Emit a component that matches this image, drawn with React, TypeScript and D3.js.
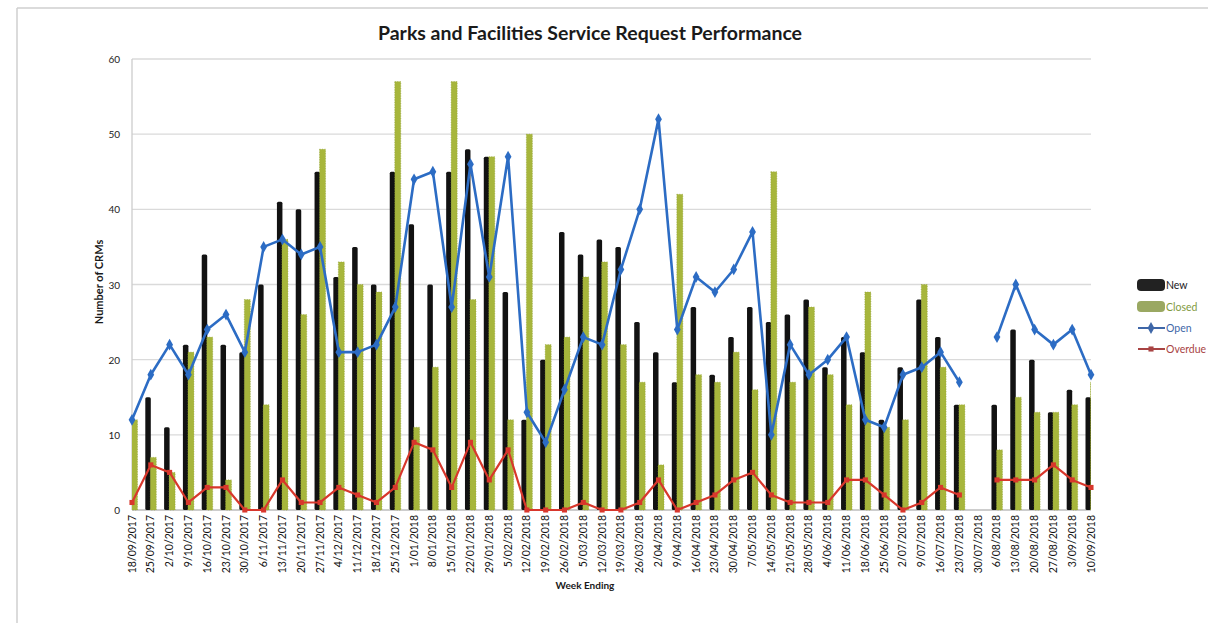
import * as d3 from 'd3';
import * as React from 'react';

const WIDTH = 1208;
const HEIGHT = 623;

const weeks = [
  '18/09/2017', '25/09/2017', '2/10/2017', '9/10/2017', '16/10/2017', '23/10/2017',
  '30/10/2017', '6/11/2017', '13/11/2017', '20/11/2017', '27/11/2017', '4/12/2017',
  '11/12/2017', '18/12/2017', '25/12/2017', '1/01/2018', '8/01/2018', '15/01/2018',
  '22/01/2018', '29/01/2018', '5/02/2018', '12/02/2018', '19/02/2018', '26/02/2018',
  '5/03/2018', '12/03/2018', '19/03/2018', '26/03/2018', '2/04/2018', '9/04/2018',
  '16/04/2018', '23/04/2018', '30/04/2018', '7/05/2018', '14/05/2018', '21/05/2018',
  '28/05/2018', '4/06/2018', '11/06/2018', '18/06/2018', '25/06/2018', '2/07/2018',
  '9/07/2018', '16/07/2018', '23/07/2018', '30/07/2018', '6/08/2018', '13/08/2018',
  '20/08/2018', '27/08/2018', '3/09/2018', '10/09/2018',
];

const newRequests = [
  12, 15, 11, 22, 34, 22, 21, 30, 41, 40, 45, 31, 35, 30, 45, 38, 30, 45, 48, 47, 29, 12, 20, 37, 34, 36,
  35, 25, 21, 17, 27, 18, 23, 27, 25, 26, 28, 19, 23, 21, 12, 19, 28, 23, 14, null, 14, 24, 20, 13, 16, 15,
];
const closed = [
  12, 7, 5, 21, 23, 4, 28, 14, 36, 26, 48, 33, 30, 29, 57, 11, 19, 57, 28, 47, 12, 50, 22, 23, 31, 33,
  22, 17, 6, 42, 18, 17, 21, 16, 45, 17, 27, 18, 14, 29, 11, 12, 30, 19, 14, null, 8, 15, 13, 13, 14, 17,
];
const open = [
  12, 18, 22, 18, 24, 26, 21, 35, 36, 34, 35, 21, 21, 22, 27, 44, 45, 27, 46, 31, 47, 13, 9, 16, 23, 22,
  32, 40, 52, 24, 31, 29, 32, 37, 10, 22, 18, 20, 23, 12, 11, 18, 19, 21, 17, null, 23, 30, 24, 22, 24, 18,
];
const overdue = [
  1, 6, 5, 1, 3, 3, 0, 0, 4, 1, 1, 3, 2, 1, 3, 9, 8, 3, 9, 4, 8, 0, 0, 0, 1, 0,
  0, 1, 4, 0, 1, 2, 4, 5, 2, 1, 1, 1, 4, 4, 2, 0, 1, 3, 2, null, 4, 4, 4, 6, 4, 3,
];
const yTicks = [0, 10, 20, 30, 40, 50, 60];

const FONT = 'Lato, "Open Sans", sans-serif';
const BLACK = '#121212';
const GREEN = '#a7b63c';
const BLUE = '#2c6cc4';
const RED = '#d8372c';

const left = 132;
const right = 1091;
const top = 59;
const bottom = 510;

const x = d3.scalePoint<string>().domain(weeks).range([left, right]);
const y = d3.scaleLinear().domain([0, 60]).range([bottom, top]);

const lineGen = d3
  .line<number | null>()
  .defined(d => d !== null)
  .x((d, i) => x(weeks[i]) as number)
  .y(d => y(d as number));

const diamond = d3.symbol().type(d3.symbolDiamond).size(40)();
const square = d3.symbol().type(d3.symbolSquare).size(26)();

export default function App() {
  const barW = 5.5;
  return (
    <div style={{ position: 'absolute', left: 0, top: 0 }}>
      <svg width={WIDTH} height={HEIGHT} style={{ display: 'block', background: '#fff' }} fontFamily={FONT}>
        <defs>
          <clipPath id="plot">
            <rect x={left} y={0} width={right - left} height={bottom + 1} />
          </clipPath>
        </defs>
        {/* outer frame */}
        <line x1={17} x2={WIDTH} y1={8} y2={8} stroke="#cfcfcf" strokeWidth={1.5} />
        <line x1={17} x2={17} y1={8} y2={HEIGHT} stroke="#cfcfcf" strokeWidth={1.5} />

        <text x={590} y={40} textAnchor="middle" fontSize={19.5} fontWeight="bold" fill="#1a1a1a">
          Parks and Facilities Service Request Performance
        </text>

        {/* grid */}
        {yTicks.map(t => (
          <g key={t}>
            <line x1={left} x2={right} y1={y(t)} y2={y(t)} stroke={t === 0 ? '#bdbdbd' : '#dadada'} strokeWidth={1.3} />
            <text x={120} y={y(t) + 4} textAnchor="end" fontSize={10} fill="#222">
              {t}
            </text>
          </g>
        ))}
        <line x1={left} x2={left} y1={top} y2={bottom} stroke="#cccccc" strokeWidth={1.3} />

        <g clipPath="url(#plot)">
          {newRequests.map((v, i) =>
            v === null ? null : (
              <rect key={'n' + i} x={(x(weeks[i]) as number) - barW} y={y(v)} width={barW} height={bottom - y(v)} fill={BLACK} rx={1.5} />
            )
          )}
          {closed.map((v, i) =>
            v === null ? null : (
              <rect key={'c' + i} x={(x(weeks[i]) as number) - 0.5} y={y(v)} width={barW + 0.5} height={bottom - y(v)} fill={GREEN} stroke="#8f9d2c" strokeWidth={0.6} strokeDasharray="1 1.5" />
            )
          )}
        </g>

        <path d={lineGen(open) || ''} fill="none" stroke={BLUE} strokeWidth={2.6} strokeLinejoin="round" />
        {open.map((v, i) =>
          v === null ? null : (
            <path key={'o' + i} d={diamond} transform={`translate(${x(weeks[i])},${y(v)})`} fill={BLUE} />
          )
        )}
        <path d={lineGen(overdue) || ''} fill="none" stroke={RED} strokeWidth={2.2} strokeLinejoin="round" />
        {overdue.map((v, i) =>
          v === null ? null : (
            <path key={'d' + i} d={square} transform={`translate(${x(weeks[i])},${y(v)})`} fill={RED} />
          )
        )}

        {/* x labels */}
        {weeks.map(w => (
          <text
            key={w}
            transform={`translate(${(x(w) as number) + 3.5},${515}) rotate(-90)`}
            textAnchor="end"
            fontSize={10.5}
            fill="#111"
          >
            {w}
          </text>
        ))}

        <text x={585} y={589} textAnchor="middle" fontSize={10} fontWeight="bold" fill="#1a1a1a">
          Week Ending
        </text>
        <text transform={`translate(${103},${282}) rotate(-90)`} textAnchor="middle" fontSize={11} fontWeight="bold" fill="#1a1a1a">
          Number of CRMs
        </text>

        {/* legend */}
        <g fontSize={10.5}>
          <rect x={1137} y={279} width={28} height={12} rx={4} fill="#222" />
          <text x={1166} y={289} fill="#222">New</text>
          <rect x={1137} y={301} width={28} height={11} rx={4} fill="#9aa862" />
          <text x={1166} y={311} fill="#7f9a3e">Closed</text>
          <line x1={1138} x2={1165} y1={328} y2={328} stroke="#3f67a8" strokeWidth={2} />
          <path d={diamond} transform="translate(1151,328)" fill="#3f67a8" />
          <text x={1166} y={332} fill="#3f67a8">Open</text>
          <line x1={1138} x2={1165} y1={349} y2={349} stroke="#a84343" strokeWidth={2} />
          <path d={square} transform="translate(1151,349)" fill="#a84343" />
          <text x={1166} y={353} fill="#a84343">Overdue</text>
        </g>
      </svg>
    </div>
  );
}
